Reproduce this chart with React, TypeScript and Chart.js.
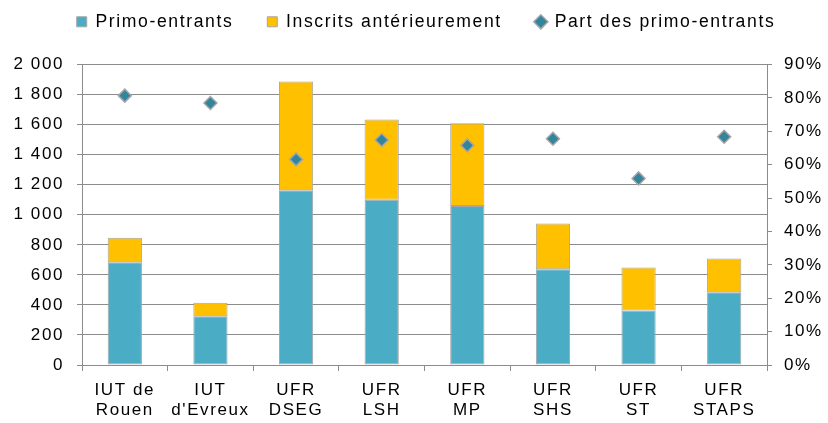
import React, { useEffect, useRef } from 'react';
import { Chart, registerables } from 'chart.js';

Chart.register(...registerables);

const categories = [
  ['IUT de', 'Rouen'],
  ['IUT', "d'Evreux"],
  ['UFR', 'DSEG'],
  ['UFR', 'LSH'],
  ['UFR', 'MP'],
  ['UFR', 'SHS'],
  ['UFR', 'ST'],
  ['UFR', 'STAPS'],
];
const primoEntrants = [684, 324, 1163, 1101, 1059, 638, 363, 485];
const inscritsAnterieurement = [164, 90, 724, 534, 551, 304, 286, 224];
const partPrimoEntrants = [80.7, 78.5, 61.6, 67.4, 65.8, 67.8, 55.9, 68.4];
const leftTickLabels = ['0', '200', '400', '600', '800', '1 000', '1 200', '1 400', '1 600', '1 800', '2 000'];
const rightTickLabels = ['0%', '10%', '20%', '30%', '40%', '50%', '60%', '70%', '80%', '90%'];

const GRID = '#8C8C8C';
const LETTER = '1.6px';
const FAMILY = "'Liberation Sans', Arial, Helvetica, sans-serif";
const FONT = { family: FAMILY, size: 17 };
const LEGEND_FONT = { family: FAMILY, size: 17.6 };

const tweakPlugin = {
  id: 'tweak',
  beforeUpdate(chart: any) {
    chart.ctx.letterSpacing = LETTER;
  },
  beforeDraw(chart: any) {
    chart.ctx.letterSpacing = LETTER;
  },
  afterLayout(chart: any) {
    const lg = chart.legend;
    if (lg) {
      lg.top -= 24;
      lg.bottom -= 24;
      lg.left += 12;
      lg.right += 12;
    }
  },
};

export default function App() {
  const ref = useRef<HTMLCanvasElement | null>(null);

  useEffect(() => {
    if (!ref.current) return;
    Chart.defaults.font = { ...Chart.defaults.font, ...FONT } as any;
    Chart.defaults.color = '#000';
    const chart = new Chart(ref.current, {
      type: 'bar',
      data: {
        labels: categories as any,
        datasets: [
          {
            label: 'Primo-entrants',
            data: primoEntrants,
            backgroundColor: '#4BACC6',
            borderColor: '#A6A6A6',
            borderWidth: 1,
            borderSkipped: false,
            stack: 's',
            barPercentage: 0.8,
            categoryPercentage: 0.5,
            pointStyle: 'rect',
            order: 1,
          } as any,
          {
            label: 'Inscrits antérieurement',
            data: inscritsAnterieurement,
            backgroundColor: '#FFC000',
            borderColor: '#A6A6A6',
            borderWidth: 1,
            borderSkipped: false,
            stack: 's',
            barPercentage: 0.8,
            categoryPercentage: 0.5,
            pointStyle: 'rect',
            order: 1,
          } as any,
          {
            type: 'line',
            label: 'Part des primo-entrants',
            data: partPrimoEntrants,
            yAxisID: 'y1',
            showLine: false,
            pointStyle: 'rectRot',
            pointRadius: 6.5,
            pointBackgroundColor: '#31859C',
            pointBorderColor: '#A6A6A6',
            pointBorderWidth: 1.5,
            backgroundColor: '#31859C',
            borderColor: '#A6A6A6',
            borderWidth: 1.5,
            order: 0,
          } as any,
        ],
      },
      options: {
        animation: false,
        responsive: false,
        layout: { padding: { top: 3, left: 0, right: 0, bottom: 0 } },
        plugins: {
          tooltip: { enabled: false },
          legend: {
            position: 'top',
            labels: {
              usePointStyle: true,
              boxWidth: 10,
              boxHeight: 10,
              padding: 34,
              color: '#000',
              font: LEGEND_FONT,
              sort: (a: any, b: any) => a.datasetIndex - b.datasetIndex,
            },
          },
        },
        scales: {
          x: {
            stacked: true,
            grid: { offset: true, drawOnChartArea: false, color: GRID, tickLength: 6 },
            border: { color: GRID, width: 1 },
            ticks: { padding: 9, maxRotation: 0, autoSkip: false, font: FONT, color: '#000' },
            afterFit(s: any) {
              s.height = 58;
            },
          },
          y: {
            stacked: true,
            min: 0,
            max: 2000,
            ticks: {
              stepSize: 200,
              padding: 13,
              font: FONT,
              color: '#000',
              callback: (v: any) => leftTickLabels[Math.round(Number(v) / 200)],
            },
            grid: { color: GRID, tickLength: 5, lineWidth: 1 },
            border: { color: GRID, width: 1 },
            afterFit(s: any) {
              s.width = 82;
            },
          },
          y1: {
            position: 'right',
            min: 0,
            max: 90,
            ticks: {
              stepSize: 10,
              padding: 12,
              font: FONT,
              color: '#000',
              callback: (v: any) => rightTickLabels[Math.round(Number(v) / 10)],
            },
            grid: { drawOnChartArea: false, color: GRID, tickLength: 5 },
            border: { color: GRID, width: 1 },
            afterFit(s: any) {
              s.width = 61;
            },
          },
        },
      } as any,
      plugins: [tweakPlugin as any],
    });
    return () => chart.destroy();
  }, []);

  return (
    <div style={{ position: 'absolute', left: 0, top: 0, width: 828, height: 423, background: '#fff' }}>
      <canvas ref={ref} width={828} height={423} style={{ display: 'block' }} />
    </div>
  );
}
